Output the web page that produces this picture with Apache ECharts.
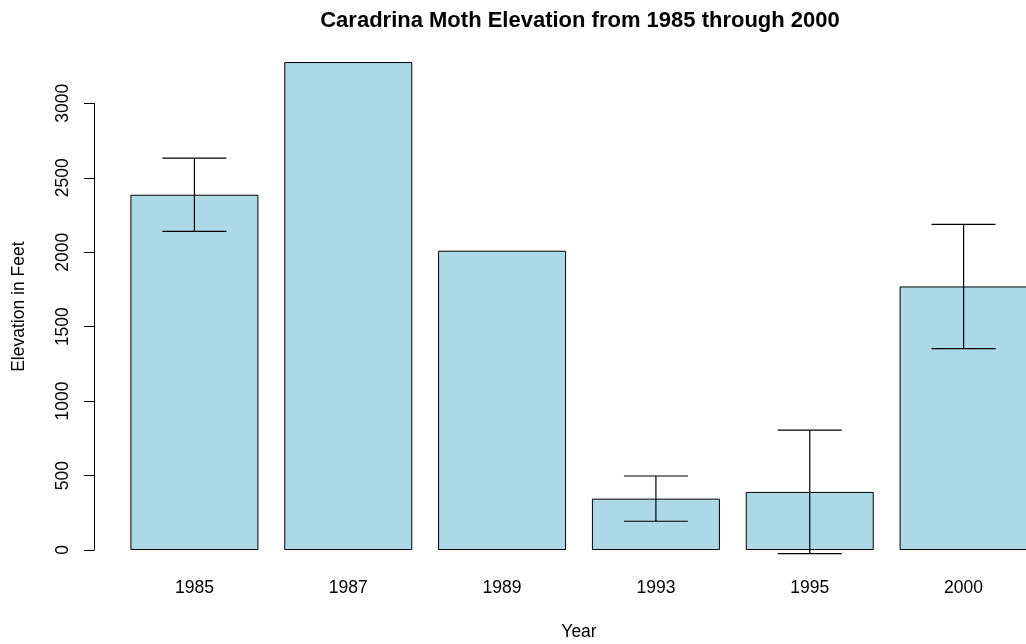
<!DOCTYPE html>
<html>
<head>
<meta charset="utf-8">
<script src="https://cdn.jsdelivr.net/npm/echarts@6/dist/echarts.min.js"></script>
<style>
  html, body { margin: 0; padding: 0; background: #fff; }
  #chart { width: 1026px; height: 644px; }
</style>
</head>
<body>
<div id="chart"></div>
<script>
let years = ["1985", "1987", "1989", "1993", "1995", "2000"];
let elevMean = [2386, 3277, 2010, 345, 390, 1770];
let elevErr = [246, null, null, 152, 415, 417];
let yTicks = [0, 500, 1000, 1500, 2000, 2500, 3000];

let fontFam = "'Liberation Sans', Arial, Helvetica, sans-serif";

// [index, mean, low, high, hasError]
let errData = years.map(function (y, i) {
  return elevErr[i] == null ? [i, elevMean[i], elevMean[i], elevMean[i], 0] :
    [i, elevMean[i], elevMean[i] - elevErr[i], elevMean[i] + elevErr[i], 1];
});

let option = {
  animation: false,
  backgroundColor: "#ffffff",
  title: {
    text: "Caradrina Moth Elevation from 1985 through 2000",
    left: 580,
    top: 10,
    padding: 0,
    textAlign: "center",
    textStyle: {
      fontFamily: fontFam,
      fontSize: 22,
      fontWeight: "bold",
      color: "#000"
    }
  },
  grid: {
    left: 117.5,
    width: 923,
    top: 103.3,
    bottom: 94,
    outerBoundsMode: "none",
    containLabel: false
  },
  xAxis: {
    type: "category",
    data: years,
    name: "Year",
    nameLocation: "middle",
    nameGap: 73,
    nameTextStyle: { fontFamily: fontFam, fontSize: 17.5, color: "#000" },
    axisLine: { show: false },
    axisTick: { show: false },
    axisLabel: {
      margin: 29,
      fontFamily: fontFam,
      fontSize: 17.5,
      color: "#000"
    }
  },
  yAxis: {
    type: "value",
    min: yTicks[0],
    max: yTicks[yTicks.length - 1],
    interval: 500,
    offset: 23.5,
    name: "Elevation in Feet",
    nameLocation: "middle",
    nameGap: 66,
    nameTextStyle: {
      fontFamily: fontFam,
      fontSize: 17.5,
      color: "#000",
      padding: [0, 0, 0, 40]
    },
    axisLine: { show: true, lineStyle: { color: "#000", width: 1 } },
    axisTick: { show: true, length: 10, lineStyle: { color: "#000", width: 1 } },
    splitLine: { show: false },
    axisLabel: {
      rotate: 90,
      margin: 22,
      fontFamily: fontFam,
      fontSize: 17.5,
      color: "#000",
      formatter: function (v) { return String(v); }
    }
  },
  series: [
    {
      type: "bar",
      data: elevMean,
      barWidth: 128,
      clip: false,
      itemStyle: {
        color: "#ADD8E6",
        borderColor: "#000",
        borderWidth: 1
      }
    },
    {
      type: "custom",
      data: errData,
      clip: false,
      z: 5,
      renderItem: function (params, api) {
        if (api.value(4) === 0) return null;
        let lo = api.coord([api.value(0), api.value(2)]);
        let hi = api.coord([api.value(0), api.value(3)]);
        let half = 32;
        let st = { stroke: "#000", lineWidth: 1.2 };
        return {
          type: "group",
          children: [
            { type: "line", shape: { x1: hi[0], y1: hi[1], x2: lo[0], y2: lo[1] }, style: st },
            { type: "line", shape: { x1: hi[0] - half, y1: hi[1], x2: hi[0] + half, y2: hi[1] }, style: st },
            { type: "line", shape: { x1: lo[0] - half, y1: lo[1], x2: lo[0] + half, y2: lo[1] }, style: st }
          ]
        };
      }
    }
  ]
};

let chart = echarts.init(document.getElementById("chart"));
chart.setOption(option);
</script>
</body>
</html>
